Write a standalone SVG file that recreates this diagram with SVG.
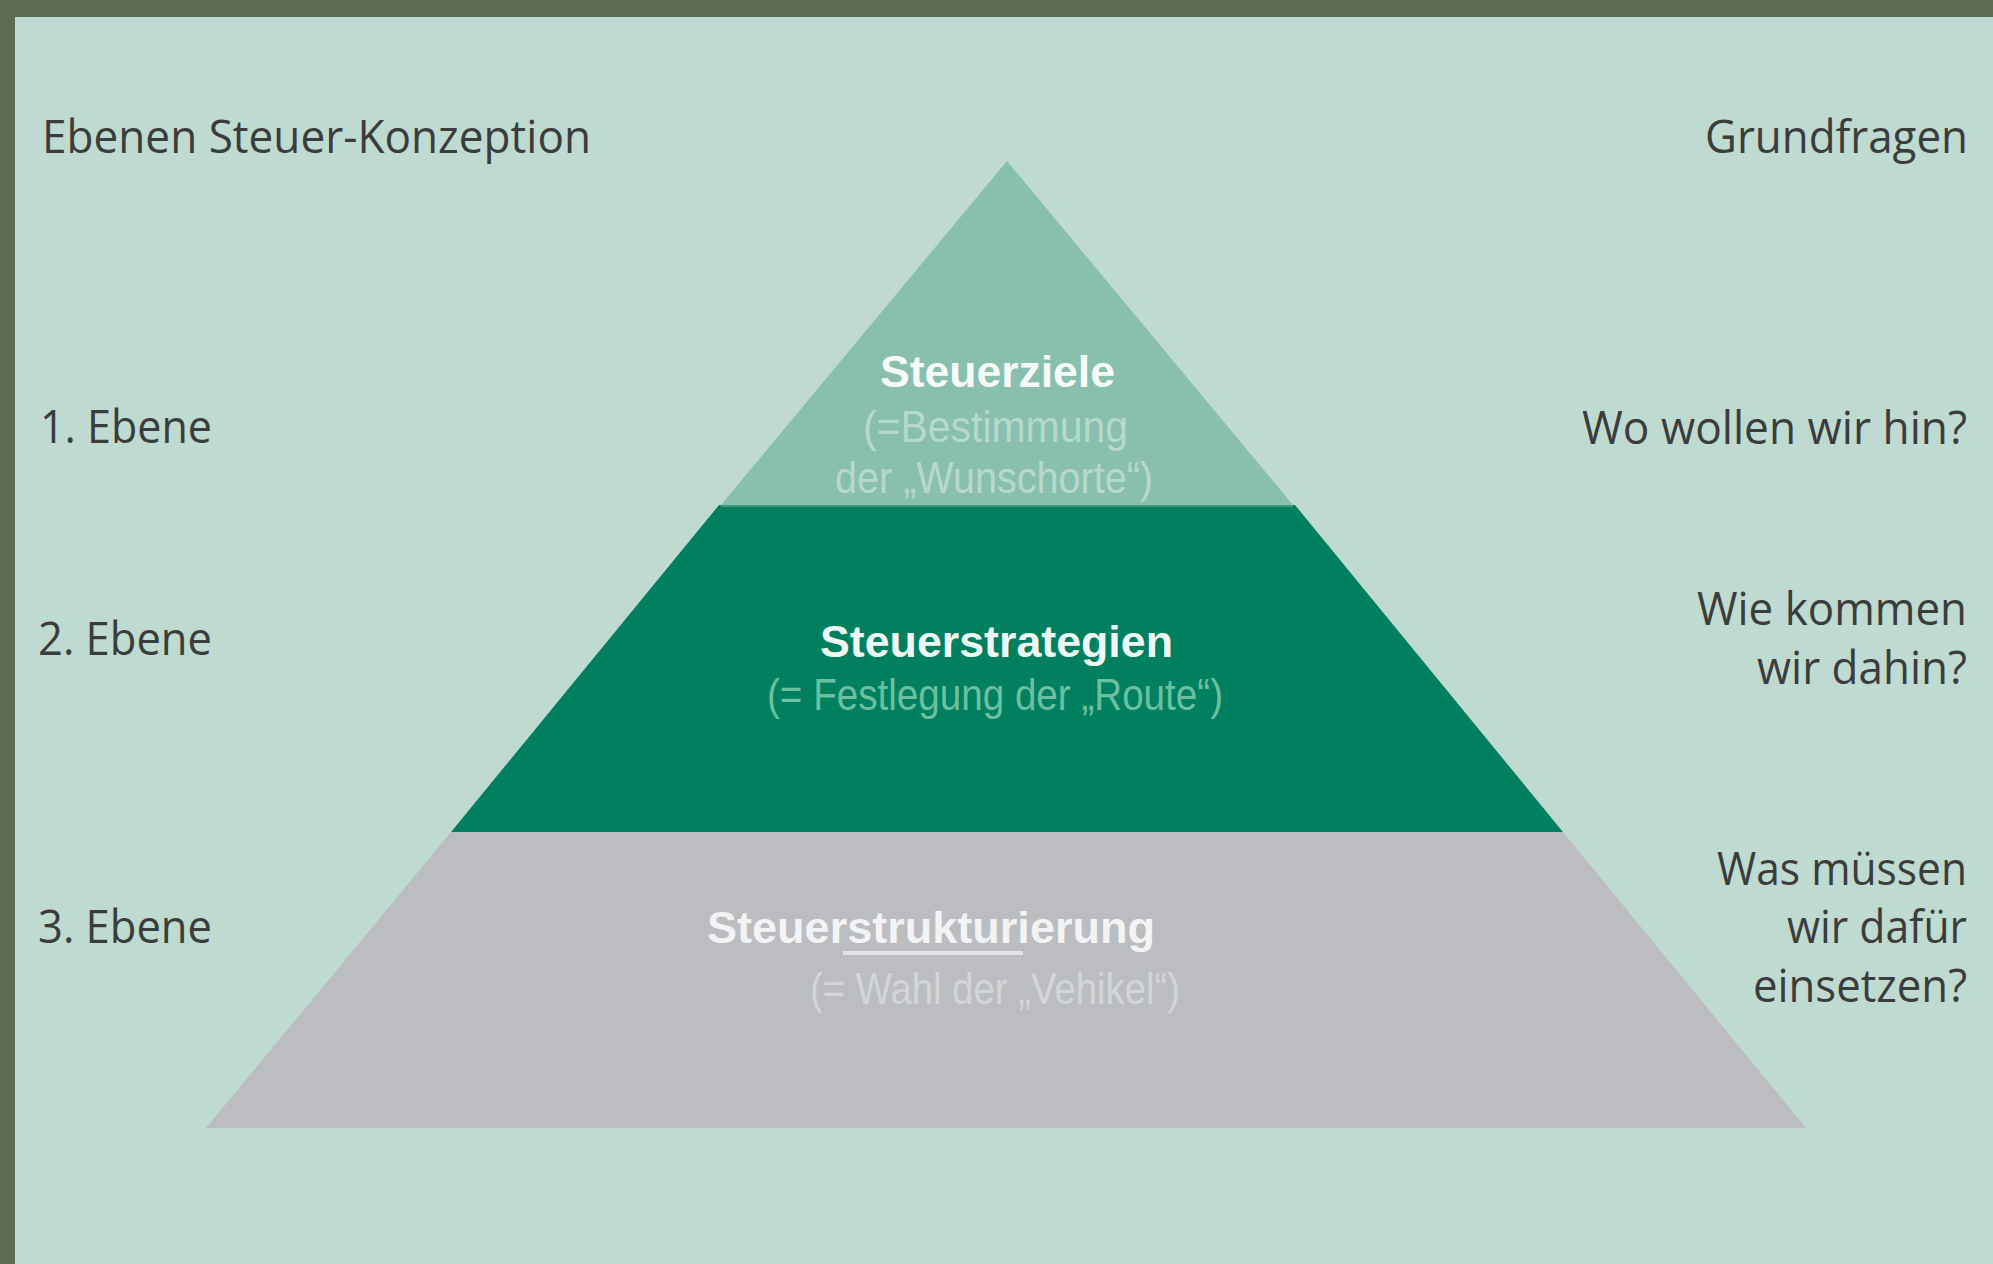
<svg xmlns="http://www.w3.org/2000/svg" width="1993" height="1264" viewBox="0 0 1993 1264">
<style>
.lbl{font-family:"Open Sans","Noto Sans","Liberation Sans",sans-serif;font-size:46px;fill:#3b3d3c}
.t{font-family:"Liberation Sans",Arial,sans-serif;font-size:44px}
.b{font-weight:bold}
</style>
<rect x="0" y="0" width="1993" height="1264" fill="#5b6b51"/>
<rect x="15" y="17" width="1978" height="1247" fill="#bfdbd1"/>
<g id="headers">
<text class="lbl" x="42" y="153" textLength="549" lengthAdjust="spacingAndGlyphs">Ebenen Steuer-Konzeption</text>
<text class="lbl" x="1705" y="153" textLength="263" lengthAdjust="spacingAndGlyphs">Grundfragen</text>
</g>
<g id="level-labels">
<text class="lbl" x="40" y="443" textLength="172" lengthAdjust="spacingAndGlyphs">1. Ebene</text>
<text class="lbl" x="38" y="655" textLength="174" lengthAdjust="spacingAndGlyphs">2. Ebene</text>
<text class="lbl" x="38" y="943" textLength="174" lengthAdjust="spacingAndGlyphs">3. Ebene</text>
</g>
<g id="questions">
<text class="lbl" x="1582" y="444" textLength="385" lengthAdjust="spacingAndGlyphs">Wo wollen wir hin?</text>
<text class="lbl" x="1697" y="625" textLength="270" lengthAdjust="spacingAndGlyphs">Wie kommen</text>
<text class="lbl" x="1757" y="684" textLength="210" lengthAdjust="spacingAndGlyphs">wir dahin?</text>
<text class="lbl" x="1717" y="885" textLength="250" lengthAdjust="spacingAndGlyphs">Was müssen</text>
<text class="lbl" x="1787" y="943" textLength="180" lengthAdjust="spacingAndGlyphs">wir dafür</text>
<text class="lbl" x="1753" y="1002" textLength="214" lengthAdjust="spacingAndGlyphs">einsetzen?</text>
</g>
<g id="layer-3">
<polygon points="451,832 1563,832 1806,1128 206,1128" fill="#bcbdc0"/>
<text class="t b" x="707" y="943" fill="#f2f3f4" textLength="448" lengthAdjust="spacingAndGlyphs">Steuerstrukturierung</text>
<rect x="843" y="951" width="180" height="4" fill="#e2e3e4"/>
<text class="t" x="810" y="1004" fill="#d3d6d9" textLength="370" lengthAdjust="spacingAndGlyphs">(= Wahl der „Vehikel“)</text>
</g>
<g id="layer-2">
<polygon points="719,505 1295,505 1563,832 451,832" fill="#00805f"/>
<line x1="721" y1="506" x2="1293" y2="506" stroke="#3a9a7e" stroke-width="2"/>
<text class="t b" x="820" y="657" fill="#eef7f3" textLength="353" lengthAdjust="spacingAndGlyphs">Steuerstrategien</text>
<text class="t" x="767" y="710" fill="#6cbf9f" textLength="456" lengthAdjust="spacingAndGlyphs">(= Festlegung der „Route“)</text>
</g>
<g id="layer-1">
<polygon points="1007,161 1293,505 721,505" fill="#88bfaf"/>
<text class="t b" x="880" y="387" fill="#f6faf8" textLength="235" lengthAdjust="spacingAndGlyphs">Steuerziele</text>
<text class="t" x="863" y="442" fill="#b5d9cb" textLength="265" lengthAdjust="spacingAndGlyphs">(=Bestimmung</text>
<text class="t" x="835" y="493" fill="#b5d9cb" textLength="318" lengthAdjust="spacingAndGlyphs">der „Wunschorte“)</text>
</g>
<g id="connectors"/>
</svg>
